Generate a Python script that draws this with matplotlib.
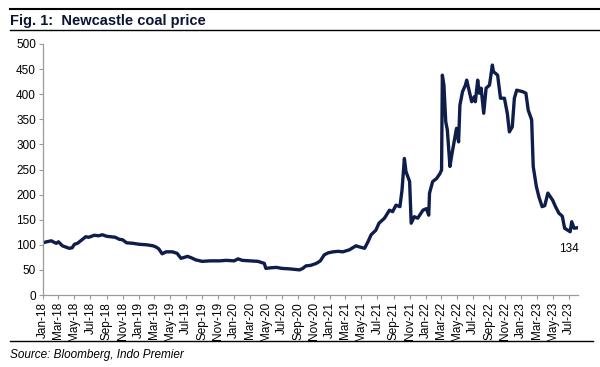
import matplotlib
matplotlib.use("Agg")
import matplotlib.pyplot as plt
import matplotlib.dates as mdates
import pandas as pd

dates = [
    "2018-01-01", "2018-01-15", "2018-02-02", "2018-02-12", "2018-02-21", "2018-03-01",
    "2018-03-16", "2018-04-01", "2018-04-11", "2018-04-22", "2018-05-01", "2018-05-13",
    "2018-05-25", "2018-06-13", "2018-06-25", "2018-07-16", "2018-08-01", "2018-08-16",
    "2018-09-01", "2018-09-19", "2018-10-04", "2018-10-19", "2018-11-01", "2018-11-16",
    "2018-12-10", "2019-01-04", "2019-02-01", "2019-02-25", "2019-03-07", "2019-03-19",
    "2019-04-01", "2019-04-16", "2019-05-10", "2019-05-28", "2019-06-12", "2019-06-25",
    "2019-07-07", "2019-07-22", "2019-08-07", "2019-09-01", "2019-10-01", "2019-11-07",
    "2019-12-01", "2020-01-01", "2020-01-16", "2020-02-01", "2020-03-01", "2020-04-01",
    "2020-04-25", "2020-05-01", "2020-05-16", "2020-06-10", "2020-07-01", "2020-08-01",
    "2020-09-07", "2020-09-19", "2020-10-01", "2020-10-19", "2020-11-10", "2020-11-25",
    "2020-12-10", "2020-12-25", "2021-01-13", "2021-02-01", "2021-02-19", "2021-03-16",
    "2021-04-10", "2021-04-22", "2021-05-13", "2021-05-25", "2021-06-07", "2021-06-25",
    "2021-07-07", "2021-07-28", "2021-08-16", "2021-08-28", "2021-09-10", "2021-09-25",
    "2021-10-03", "2021-10-12", "2021-10-18", "2021-11-01", "2021-11-07", "2021-11-19",
    "2021-12-02", "2021-12-22", "2022-01-04", "2022-01-13", "2022-01-16", "2022-01-28",
    "2022-02-12", "2022-02-25", "2022-03-03", "2022-03-06", "2022-03-12", "2022-03-19",
    "2022-03-25", "2022-04-04", "2022-04-11", "2022-04-20", "2022-04-29", "2022-05-07",
    "2022-05-12", "2022-05-22", "2022-06-02", "2022-06-07", "2022-06-17", "2022-06-26",
    "2022-07-06", "2022-07-10", "2022-07-19", "2022-07-25", "2022-08-01", "2022-08-11",
    "2022-08-20", "2022-09-02", "2022-09-13", "2022-09-17", "2022-10-03", "2022-10-14",
    "2022-10-29", "2022-11-09", "2022-11-17", "2022-11-28", "2022-12-06", "2022-12-15",
    "2023-01-07", "2023-01-19", "2023-01-28", "2023-02-10",
    "2023-02-16", "2023-02-28", "2023-03-10", "2023-03-22", "2023-04-01", "2023-04-13",
    "2023-05-01", "2023-05-13", "2023-05-25", "2023-06-07", "2023-06-16", "2023-06-28",
    "2023-07-07", "2023-07-13", "2023-07-22", "2023-08-04",
]
prices = [
    104, 106, 108, 105, 103, 106,
    98, 95, 93, 94, 101, 103,
    108, 116, 115, 119, 118, 120,
    117, 116, 115, 111, 110, 104,
    103, 101, 100, 98, 96, 92,
    82, 86, 86, 83, 73, 75,
    77, 74, 70, 67, 68, 68,
    69, 68, 72, 69, 68, 67,
    63, 53, 54, 55, 53, 52,
    50, 53, 58, 59, 63, 68,
    80, 84, 86, 87, 86, 90,
    98, 96, 93, 105, 120, 129,
    143, 153, 169, 166, 179, 176,
    209, 272, 246, 226, 143, 156,
    153, 169, 172, 159, 203, 226,
    232, 242, 249, 438, 418, 345,
    329, 256, 279, 305, 332, 305,
    378, 405, 418, 428, 405, 385,
    395, 385, 428, 402, 412, 362,
    412, 418, 458, 445, 438, 392,
    392, 362, 325, 335, 392, 408,
    405, 402, 368, 349,
    256, 216, 195, 176, 178, 203,
    189, 175, 163, 157, 133, 129,
    126, 146, 133, 134,
]
last_label = "134"
title = "Fig. 1:  Newcastle coal price"
source = "Source: Bloomberg, Indo Premier"
yticks = [0, 50, 100, 150, 200, 250, 300, 350, 400, 450, 500]

plt.rcParams['font.family'] = ['Liberation Sans', 'DejaVu Sans']

x = pd.to_datetime(dates)
fig = plt.figure(figsize=(6.0, 3.67), dpi=100)
ax = fig.add_axes([43/600, 1-295/367, (578-43)/600, (295-44)/367])

navy = "#0f1d4a"
ax.plot(x, prices, color=navy, lw=2.4, solid_joinstyle='round')

ax.set_ylim(0, 500)
ax.set_yticks(yticks)
ax.set_xlim(pd.Timestamp("2018-01-01"), pd.Timestamp("2023-08-06"))
ax.xaxis.set_major_locator(mdates.MonthLocator(bymonth=[1, 3, 5, 7, 9, 11]))
ax.xaxis.set_major_formatter(mdates.DateFormatter("%b-%y"))
for lab in ax.get_xticklabels():
    lab.set_rotation(90)

for s in ["top", "right"]:
    ax.spines[s].set_visible(False)
for s in ["left", "bottom"]:
    ax.spines[s].set_color("#9a9a9a")
    ax.spines[s].set_linewidth(0.9)
ax.tick_params(axis="both", colors="#9a9a9a", labelcolor="black", labelsize=8.5,
               length=3, width=0.8, pad=2)

ax.annotate(last_label, xy=(x[-1], prices[-1]), xytext=(-6, -15), textcoords="offset points",
            ha="center", va="center", fontsize=8.5, color="black")

fig.text(10/600, 1-21/367, title, fontsize=10.5, fontweight="bold", color="#0b1533",
         ha="left", va="center")
fig.add_artist(plt.Line2D([10/600, 1.0], [1-9/367, 1-9/367], color="black", lw=1.5))
fig.add_artist(plt.Line2D([10/600, 1.0], [1-30/367, 1-30/367], color="black", lw=1.0))
fig.add_artist(plt.Line2D([10/600, 593/600], [1-341/367, 1-341/367], color="black", lw=1.0))
fig.text(10/600, 1-355/367, source, fontsize=8.5, style="italic", color="black",
         ha="left", va="center")

fig.savefig("out.png", dpi=100)
